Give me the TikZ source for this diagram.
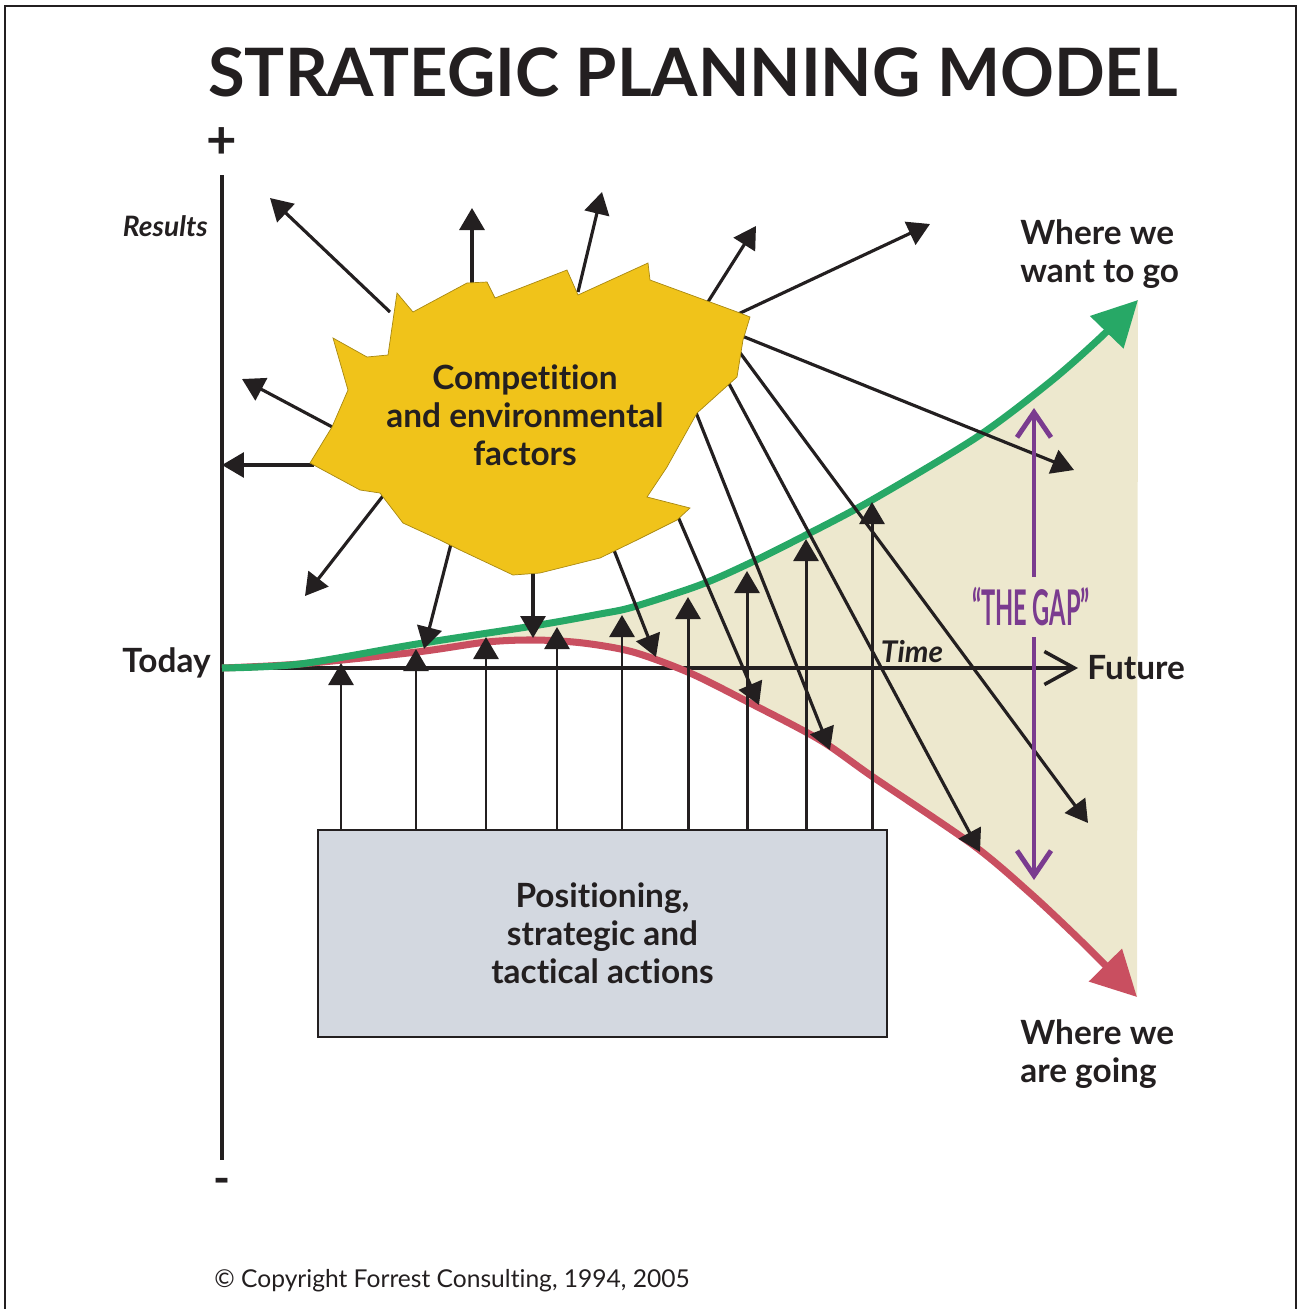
\documentclass[tikz,border=0pt]{standalone}
\usepackage{fontspec}
\setmainfont{Lato}[Ligatures=NoCommon]
\usepackage{graphicx}
\usetikzlibrary{arrows.meta}

\definecolor{inkblack}{HTML}{231F20}
\definecolor{wantgreen}{HTML}{27A866}
\definecolor{goingred}{HTML}{C94F60}
\definecolor{gapbeige}{HTML}{EDE8CE}
\definecolor{gappurple}{HTML}{7A3B8F}
\definecolor{factoryellow}{HTML}{F0C31A}
\definecolor{actiongray}{HTML}{D3D8E0}

\tikzset{
  > = {Triangle[length=0.44cm, width=0.5cm]},
  pixel frame/.style = {x=0.02cm, y=-0.02cm},
  label text/.style = {inner sep=0pt, text=inkblack, font=\fontsize{19}{21.5}\selectfont\bfseries},
  factor arrow/.style = {->, line width=1.8pt, draw=inkblack, fill=inkblack},
  action arrow/.style = {->, line width=1.7pt, draw=inkblack, fill=inkblack},
  axis line/.style = {line width=2pt, draw=inkblack},
  trend line/.style = {line width=4pt, -{Triangle[length=0.9cm, width=0.9cm]}},
}

\begin{document}
\begin{tikzpicture}[pixel frame]
  \useasboundingbox (0,0) rectangle (1297,1309);

  %% define coordinates
  \coordinate (origin) at (222,668);
  \coordinate (ytop) at (222,175);
  \coordinate (ybot) at (222,1160);
  \coordinate (xend) at (1078,668);
  \coordinate (gaptop) at (1034,408);
  \coordinate (gapbot) at (1034,880);

  % outer frame
  \draw[line width=1.3pt, inkblack] (5,1309) -- (5,6) -- (1296,6) -- (1296,1309);

  % title
  \node[label text, font=\fontsize{38}{42}\selectfont\bfseries] (title) at (693,72) {STRATEGIC PLANNING MODEL};

  % fill the gap between the two trends
  \fill[gapbeige] plot[smooth] coordinates {(222,668) (300,664) (417,644) (533,626) (600,614) (633,607) (700,585) (750,563) (806,535) (872,500) (977,437) (1050,382) (1100,338) (1138,300)}
    -- plot[smooth] coordinates {(1137,997) (1080,940) (1030,893) (973,845) (873,777) (820,740) (750,703) (690,673) (633,652) (583,643) (535,640) (487,642) (417,652) (300,664) (222,668)} -- cycle;

  % draw axes
  \draw[axis line] (ytop) -- (ybot);
  \draw[axis line, -{Straight Barb[length=0.6cm, width=0.66cm]}] (origin) -- (xend);
  \node[label text, font=\fontsize{30}{30}\selectfont\bfseries] (plus) at (222,143) {+};
  \node[label text, font=\fontsize{26}{26}\selectfont\bfseries] (minus) at (222,1186) {-};
  \node[label text, anchor=east, font=\fontsize{16}{18}\selectfont\bfseries\itshape] (results) at (208,226) {Results};
  \node[label text, anchor=east] (today) at (211,663) {Today};
  \node[label text, anchor=west] (future) at (1087,668) {Future};
  \node[label text, font=\fontsize{17}{18}\selectfont\bfseries\itshape] (time) at (912,652) {Time};

  % draw the two trends
  \draw[trend line, goingred] plot[smooth] coordinates {(222,668) (300,664) (417,652) (487,642) (535,640) (583,643) (633,652) (690,673) (750,703) (820,740) (873,777) (973,845) (1030,893) (1080,940) (1137,997)};
  \draw[trend line, wantgreen] plot[smooth] coordinates {(222,668) (300,664) (417,644) (533,626) (600,614) (633,607) (700,585) (750,563) (806,535) (872,500) (977,437) (1050,382) (1100,338) (1138,300)};
  \node[label text, anchor=west, align=left] (wantgo) at (1020,254) {Where we\\want to go};
  \node[label text, anchor=west, align=left] (aregoing) at (1020,1054) {Where we\\are going};

  % arrows pushed out by the environment
  \coordinate (src1) at (390,312);  \coordinate (dst1) at (270,198);
  \coordinate (src2) at (472,290);  \coordinate (dst2) at (472,208);
  \coordinate (src3) at (578,292);  \coordinate (dst3) at (602,192);
  \coordinate (src4) at (706,305);  \coordinate (dst4) at (756,226);
  \coordinate (src5) at (736,315);  \coordinate (dst5) at (930,224);
  \coordinate (src6) at (336,429);  \coordinate (dst6) at (242,379);
  \coordinate (src7) at (314,465);  \coordinate (dst7) at (222,465);
  \coordinate (src8) at (386,492);  \coordinate (dst8) at (305,596);
  \coordinate (src9) at (452,540);  \coordinate (dst9) at (424,649);
  \coordinate (src10) at (533,570); \coordinate (dst10) at (533,638);
  \coordinate (src11) at (612,545); \coordinate (dst11) at (656,657);
  \coordinate (src12) at (676,512); \coordinate (dst12) at (759,705);
  \coordinate (src13) at (693,405); \coordinate (dst13) at (830,750);
  \coordinate (src14) at (726,378); \coordinate (dst14) at (980,852);
  \coordinate (src15) at (738,350); \coordinate (dst15) at (1088,823);
  \coordinate (src16) at (742,336); \coordinate (dst16) at (1074,470);
  \draw[factor arrow] (src1) -- (dst1);
  \draw[factor arrow] (src2) -- (dst2);
  \draw[factor arrow] (src3) -- (dst3);
  \draw[factor arrow] (src4) -- (dst4);
  \draw[factor arrow] (src5) -- (dst5);
  \draw[factor arrow] (src6) -- (dst6);
  \draw[factor arrow] (src7) -- (dst7);
  \draw[factor arrow] (src8) -- (dst8);
  \draw[factor arrow] (src9) -- (dst9);
  \draw[factor arrow] (src10) -- (dst10);
  \draw[factor arrow] (src11) -- (dst11);
  \draw[factor arrow] (src12) -- (dst12);
  \draw[factor arrow] (src13) -- (dst13);
  \draw[factor arrow] (src14) -- (dst14);
  \draw[factor arrow] (src15) -- (dst15);
  \draw[factor arrow] (src16) -- (dst16);

  % draw the competition blob
  \filldraw[fill=factoryellow, draw=factoryellow!70!black, line width=0.4pt]
    (397,293) -- (413,312) -- (467,283) -- (487,282) -- (495,298) -- (567,270) -- (578,295)
    -- (648,263) -- (650,280) -- (740,313) -- (750,317) -- (743,340) -- (737,377) -- (697,413)
    -- (667,467) -- (647,497) -- (690,508) -- (677,520) -- (637,540) -- (600,558) -- (540,573)
    -- (513,575) -- (460,550) -- (440,540) -- (403,523) -- (380,493) -- (360,490) -- (310,463)
    -- (332,427) -- (348,390) -- (333,338) -- (367,357) -- (388,355) -- cycle;
  \node[label text, align=center] (factors) at (525,415) {Competition\\and environmental\\factors};

  % draw the actions box and its arrows
  \node[draw=inkblack, line width=1.1pt, fill=actiongray, minimum width=569*0.02cm, minimum height=207*0.02cm,
    inner sep=0pt, align=center, text=inkblack, font=\fontsize{19}{21.5}\selectfont\bfseries] (actions) at (602.5,933.5)
    {Positioning,\\strategic and\\tactical actions};
  \coordinate (act1) at (341,663);
  \coordinate (act2) at (416,649);
  \coordinate (act3) at (486,637);
  \coordinate (act4) at (557,627);
  \coordinate (act5) at (622,615);
  \coordinate (act6) at (688,597);
  \coordinate (act7) at (747,571);
  \coordinate (act8) at (806,539);
  \coordinate (act9) at (872,502);
  \draw[action arrow] (act1 |- actions.north) -- (act1);
  \draw[action arrow] (act2 |- actions.north) -- (act2);
  \draw[action arrow] (act3 |- actions.north) -- (act3);
  \draw[action arrow] (act4 |- actions.north) -- (act4);
  \draw[action arrow] (act5 |- actions.north) -- (act5);
  \draw[action arrow] (act6 |- actions.north) -- (act6);
  \draw[action arrow] (act7 |- actions.north) -- (act7);
  \draw[action arrow] (act8 |- actions.north) -- (act8);
  \draw[action arrow] (act9 |- actions.north) -- (act9);

  % draw the gap
  \draw[gappurple, line width=2.8pt, {Straight Barb[length=0.5cm, width=0.68cm]}-{Straight Barb[length=0.5cm, width=0.68cm]}] (gaptop) -- (gapbot);
  \node[fill=gapbeige, inner xsep=0pt, inner ysep=0.22cm, text=gappurple] (gap) at (1031,607)
    {\scalebox{0.48}[1]{\fontsize{28}{28}\selectfont\bfseries “THE GAP”}};

  % copyright
  \node[label text, anchor=west, font=\fontsize{14}{16}\selectfont] (copyright) at (214,1281) {© Copyright Forrest Consulting, 1994, 2005};
\end{tikzpicture}
\end{document}
